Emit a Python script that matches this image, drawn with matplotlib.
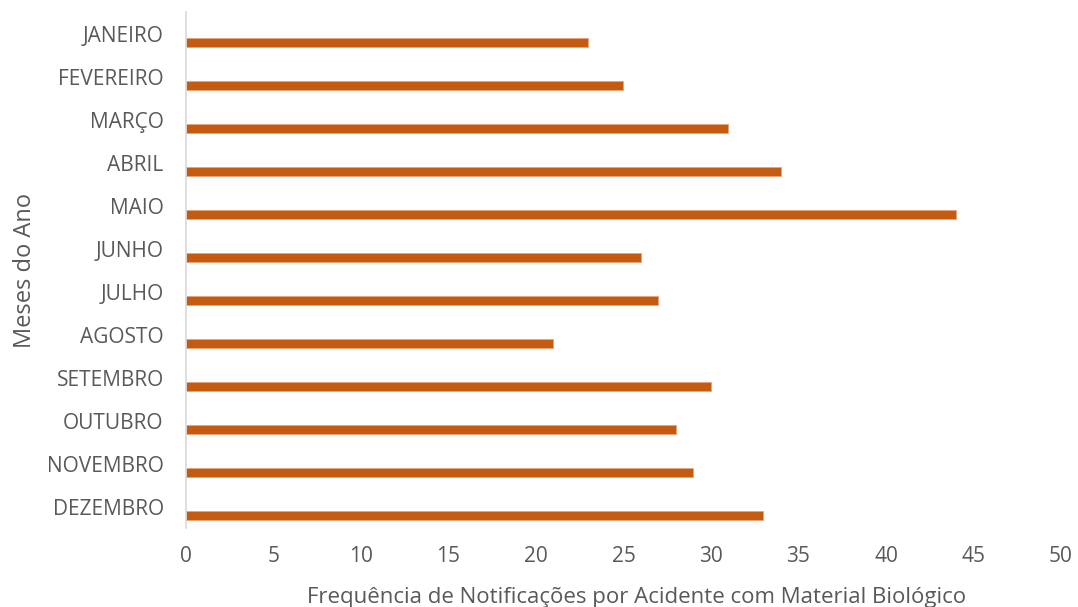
import matplotlib.pyplot as plt

meses = ['JANEIRO', 'FEVEREIRO', 'MARÇO', 'ABRIL', 'MAIO', 'JUNHO',
         'JULHO', 'AGOSTO', 'SETEMBRO', 'OUTUBRO', 'NOVEMBRO', 'DEZEMBRO']
notificacoes = [23, 25, 31, 34, 44, 26, 27, 21, 30, 28, 29, 33]
x_ticks = [0, 5, 10, 15, 20, 25, 30, 35, 40, 45, 50]

plt.rcParams['font.family'] = ['Open Sans', 'DejaVu Sans']
cor_barra = '#C55A11'
cor_texto = '#595959'

fig = plt.figure(figsize=(10.78, 6.07), dpi=100)
ax = fig.add_axes([0.1725, 0.1301, 0.8117, 0.8501])

pos = list(range(len(meses)))
# barras deslocadas para baixo do rótulo, como no gráfico do Excel
ax.barh([p + 0.21 for p in pos], notificacoes, height=0.22, color=cor_barra,
        edgecolor='#E8A37A', linewidth=0.6)

ax.set_yticks(pos)
ax.set_yticklabels(meses)
ax.set_ylim(len(meses) - 0.5, -0.5)
ax.set_xlim(0, 50)
ax.set_xticks(x_ticks)

ax.tick_params(axis='both', length=0, labelsize=15, labelcolor=cor_texto)
ax.tick_params(axis='y', pad=16)
ax.tick_params(axis='x', pad=13)

for lado in ['top', 'right', 'bottom']:
    ax.spines[lado].set_visible(False)
ax.spines['left'].set_color('#D9D9D9')
ax.spines['left'].set_linewidth(1.2)

ax.set_xlabel('Frequência de Notificações por Acidente com Material Biológico',
              fontsize=16, color=cor_texto)
ax.xaxis.set_label_coords(0.515, -0.114)
ax.set_ylabel('Meses do Ano', fontsize=17, color=cor_texto, labelpad=7)

fig.savefig('out.png', dpi=100)
